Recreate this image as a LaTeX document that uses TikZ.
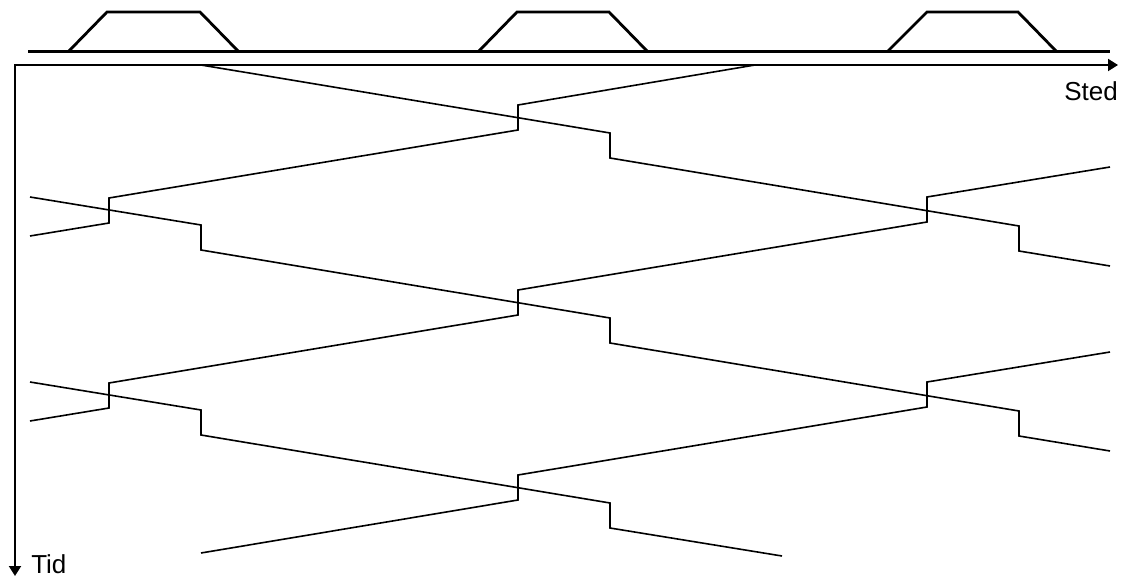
\documentclass[tikz,border=0pt]{standalone}
\usepackage{fontspec}
\setmainfont{Liberation Sans}
\usetikzlibrary{arrows.meta}
\begin{document}
\begin{tikzpicture}[x=0.75pt,y=-0.75pt,
  track/.style={line width=2.25pt},
  platform/.style={line width=2.1pt, line join=miter},
  axis/.style={line width=1.5pt, line join=miter,
    {Triangle[length=7.5pt,width=9pt]}-{Triangle[length=7.5pt,width=9pt]}},
  train/.style={line width=1.2pt, line join=miter},
  lbl/.style={font=\fontsize{19.5}{22}\selectfont, inner sep=0pt, anchor=base west}]
\useasboundingbox (0,0) rectangle (1123,577);

% track and the three platforms
\draw[track] (28,52) -- (1110,52);
\draw[platform] (68,52) -- (107,12) -- (200,12) -- (239,52);
\draw[platform] (478,52) -- (517,12) -- (609,12) -- (648,52);
\draw[platform] (887,52) -- (927,12) -- (1018,12) -- (1057,52);

% place and time axes
\coordinate (origin) at (15,65);
\coordinate (placeEnd) at (1118,65);
\coordinate (timeEnd) at (15,576);
\draw[axis] (placeEnd) -- (origin) -- (timeEnd);
\node[lbl] (sted) at (1064,101) {Sted};
\node[lbl] (tid) at (31,573) {Tid};

% trains running to the right (stop at the right end of each platform)
\draw[train] (201,65) -- (610,133) -- (610,158) -- (1019,226) -- (1019,251) -- (1110,266);
\draw[train] (30,197) -- (201,225) -- (201,250) -- (610,318) -- (610,343)
  -- (1019,411) -- (1019,436) -- (1110,451);
\draw[train] (30,382) -- (201,410) -- (201,435) -- (610,503) -- (610,528) -- (782,556);

% trains running to the left (stop at the left end of each platform)
\draw[train] (755,65) -- (518,105) -- (518,130) -- (109,198) -- (109,223) -- (30,236);
\draw[train] (1110,167) -- (927,197) -- (927,222) -- (518,290) -- (518,315)
  -- (109,383) -- (109,408) -- (30,421);
\draw[train] (1110,352) -- (927,382) -- (927,407) -- (518,475) -- (518,500) -- (201,553);
\end{tikzpicture}
\end{document}
